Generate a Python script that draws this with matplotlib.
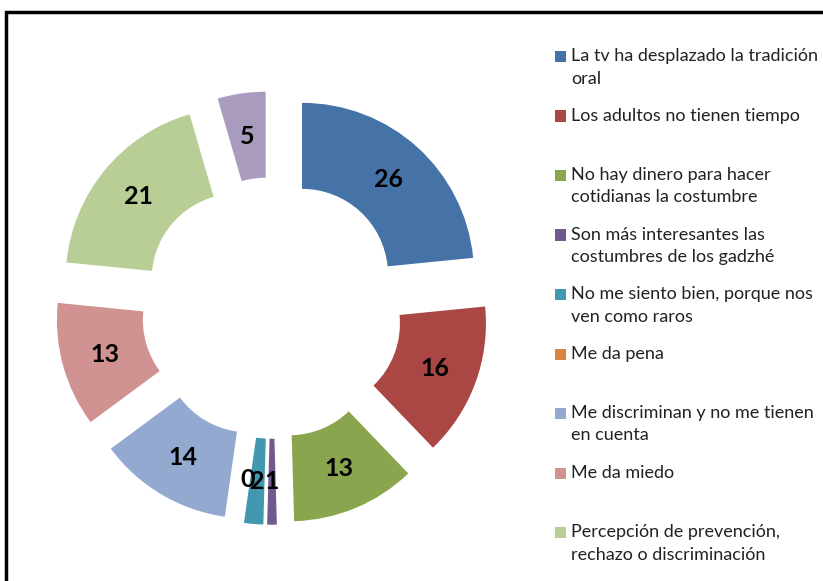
import matplotlib
matplotlib.use('Agg')
import matplotlib.pyplot as plt
from matplotlib.patches import Rectangle

categories = ['La tv ha desplazado la tradición\noral',
              'Los adultos no tienen tiempo',
              'No hay dinero para hacer\ncotidianas la costumbre',
              'Son más interesantes las\ncostumbres de los gadzhé',
              'No me siento bien, porque nos\nven como raros',
              'Me da pena',
              'Me discriminan y no me tienen\nen cuenta',
              'Me da miedo',
              'Percepción de prevención,\nrechazo o discriminación',
              'Otra']
values = [26, 16, 13, 1, 2, 0, 14, 13, 21, 5]
colors = ['#4572A7', '#AA4643', '#89A54E', '#71588F', '#4198AF',
          '#DB843D', '#93A9CF', '#D19392', '#B9CD96', '#A99BBD']

W, H = 823, 581
fig = plt.figure(figsize=(W / 100, H / 100), dpi=100)

# donut: center at (272, 308) px from top-left, outer radius 172 px
R = 172
cx, cy = 272, H - 308
ax = fig.add_axes([0, 0, 2 * cx / W, 2 * cy / H])
total = sum(values)
wedges, texts, autotexts = ax.pie(
    values, colors=colors, startangle=90, counterclock=False,
    explode=[0.26] * len(values), radius=1,
    wedgeprops=dict(width=0.5, linewidth=0),
    autopct=lambda p: f'{p * total / 100:.0f}', pctdistance=0.75,
    textprops=dict(fontsize=18, fontweight='bold', family='Lato', color='black'))
ax.set_xlim(-cx / R, cx / R)
ax.set_ylim(-cy / R, cy / R)
ax.axis('off')

# legend drawn as fixed slots like the spreadsheet legend
slot = 59.5
y0 = 57
for i, (lab, col) in enumerate(zip(categories, colors)):
    yc = y0 + i * slot
    if yc > H - 10:
        break
    fig.add_artist(Rectangle((555 / W, 1 - (yc + 5) / H), 11 / W, 11 / H,
                             transform=fig.transFigure, facecolor=col,
                             edgecolor='none'))
    fig.text(571 / W, 1 - (yc - 9) / H, lab, ha='left', va='top',
             fontsize=13, family='Lato', color='#222222', linespacing=1.5)

# outer frame
fig.add_artist(Rectangle((6 / W, -0.05), 1.1, 1 - 12 / H + 0.05,
                         transform=fig.transFigure, fill=False,
                         edgecolor='black', linewidth=2.5))

fig.savefig('out.png', dpi=100)
